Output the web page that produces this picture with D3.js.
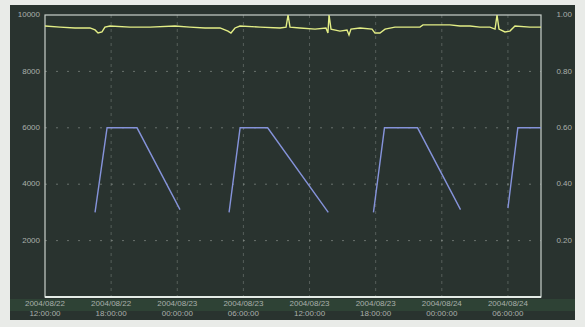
<!DOCTYPE html>
<html>
<head>
<meta charset="utf-8">
<script src="https://cdn.jsdelivr.net/npm/d3@7"></script>
<style>
  body { margin: 0; background: #e9ebe8; }
  #container { width: 585px; height: 327px; }
</style>
</head>
<body>
<div id="container"></div>
<script>
// hours after start
const yellowHours = [0, 1.36, 2.72, 4.08, 4.54, 4.81, 5.17, 5.44, 5.9, 7.71, 9.53, 11.79, 13.15, 14.52,
    15.88, 16.6, 16.87, 17.24, 17.69, 19.51, 21.32, 21.87, 22.05, 22.23, 23.13, 24.5, 25.49, 25.67,
    25.77, 25.95, 26.76, 27.4, 27.58, 27.76, 28.58, 29.67, 29.94, 30.39, 30.85, 31.75, 34.02, 34.29,
    36.74, 37.65, 38.56, 39.46, 40.37, 40.83, 41.01, 41.19, 41.73, 42.18, 42.64, 44, 45]
const yellowValues = [0.961, 0.957, 0.954, 0.954, 0.947, 0.936, 0.94, 0.957, 0.961, 0.957, 0.957, 0.961,
    0.957, 0.954, 0.954, 0.943, 0.936, 0.954, 0.961, 0.957, 0.954, 0.957, 1.0, 0.957, 0.954, 0.95,
    0.954, 0.936, 1.0, 0.95, 0.943, 0.947, 0.929, 0.95, 0.954, 0.95, 0.936, 0.936, 0.95, 0.957, 0.957,
    0.965, 0.965, 0.961, 0.961, 0.957, 0.957, 0.95, 1.0, 0.95, 0.94, 0.943, 0.961, 0.957, 0.957]

// null = no line drawn
const blueHours = [4.54, 5.63, 8.35, 12.25, 14, 16.7, 17.7, 20.2, 25.7, 27.5, 29.8, 30.8, 33.8, 37.7, 40, 42.0, 42.9, 45]
const blueValues = [3000, 6000, 6000, 3100, null, 3000, 6000, 6000, 3000, null, 3000, 6000, 6000, 3100, null, 3150, 6000, 6000]

const leftTicks = [2000, 4000, 6000, 8000, 10000]
const leftTickLabels = ['2000', '4000', '6000', '8000', '10000']
const rightTicks = [0.2, 0.4, 0.6, 0.8, 1.0]
const rightTickLabels = ['0.20', '0.40', '0.60', '0.80', '1.00']
const startTime = new Date(2004, 7, 22, 12, 0)
const tickHours = [0, 6, 12, 18, 24, 30, 36, 42]

const config = {
    width: 585,
    height: 327,
    plotLeft: 45,
    plotRight: 541,
    plotTop: 15,
    plotBottom: 297,
}

const hourToDate = h => new Date(startTime.getTime() + h * 3600 * 1000)

const svg = d3.select('#container')
    .append('svg')
    .attr('width', config.width)
    .attr('height', config.height)

// dark screen panel
svg.append('rect')
    .attr('x', 10)
    .attr('y', 5)
    .attr('width', 565)
    .attr('height', 315)
    .attr('fill', '#29332f')

// greenish band under the axis
svg.append('rect')
    .attr('x', 10)
    .attr('y', 299)
    .attr('width', 565)
    .attr('height', 12)
    .attr('fill', '#3f6f48')
    .style('opacity', 0.25)

const xScale = d3.scaleTime()
    .domain([hourToDate(0), hourToDate(45)])
    .range([config.plotLeft, config.plotRight])

const yLeft = d3.scaleLinear()
    .domain([0, 10000])
    .range([config.plotBottom, config.plotTop])

const yRight = d3.scaleLinear()
    .domain([0, 1])
    .range([config.plotBottom, config.plotTop])

// grid
svg.append('g')
    .selectAll('line')
    .data(leftTicks.slice(0, 4))
    .join('line')
    .attr('x1', config.plotLeft)
    .attr('x2', config.plotRight)
    .attr('y1', d => yLeft(d))
    .attr('y2', d => yLeft(d))
    .attr('stroke', '#c8cec8')
    .attr('stroke-dasharray', '2,9')
    .style('opacity', 0.4)

svg.append('g')
    .selectAll('line')
    .data(tickHours.slice(1))
    .join('line')
    .attr('x1', d => xScale(hourToDate(d)))
    .attr('x2', d => xScale(hourToDate(d)))
    .attr('y1', config.plotTop)
    .attr('y2', config.plotBottom)
    .attr('stroke', '#c8cec8')
    .attr('stroke-dasharray', '3,4')
    .style('opacity', 0.28)

// frame
svg.append('rect')
    .attr('x', config.plotLeft)
    .attr('y', config.plotTop)
    .attr('width', config.plotRight - config.plotLeft)
    .attr('height', config.plotBottom - config.plotTop)
    .attr('fill', 'none')
    .attr('stroke', '#c9d0cb')
    .attr('stroke-width', 1.2)

svg.append('line')
    .attr('x1', config.plotLeft)
    .attr('x2', config.plotRight)
    .attr('y1', config.plotBottom)
    .attr('y2', config.plotBottom)
    .attr('stroke', '#e4ebe6')
    .attr('stroke-width', 2)

// blue sawtooth
const blueLine = d3.line()
    .defined(d => d[1] !== null)
    .x(d => xScale(hourToDate(d[0])))
    .y(d => yLeft(d[1]))

svg.append('path')
    .datum(blueHours.map((h, i) => [h, blueValues[i]]))
    .attr('d', blueLine)
    .attr('fill', 'none')
    .attr('stroke', '#8593da')
    .attr('stroke-width', 1.4)

// yellow line
const yellowLine = d3.line()
    .x(d => xScale(hourToDate(d[0])))
    .y(d => yRight(d[1]))

svg.append('path')
    .datum(yellowHours.map((h, i) => [h, yellowValues[i]]))
    .attr('d', yellowLine)
    .attr('fill', 'none')
    .attr('stroke', '#e3ee86')
    .attr('stroke-width', 1.4)

// left axis labels
svg.append('g')
    .selectAll('text')
    .data(leftTicks)
    .join('text')
    .text((_, i) => leftTickLabels[i])
    .attr('x', 40)
    .attr('y', d => yLeft(d))
    .attr('text-anchor', 'end')
    .attr('dominant-baseline', 'middle')
    .style('font-family', 'Liberation Sans, sans-serif')
    .style('font-size', '8px')
    .style('fill', '#a9b0ab')

// right axis labels
svg.append('g')
    .selectAll('text')
    .data(rightTicks)
    .join('text')
    .text((_, i) => rightTickLabels[i])
    .attr('x', 572)
    .attr('y', d => yRight(d))
    .attr('text-anchor', 'end')
    .attr('dominant-baseline', 'middle')
    .style('font-family', 'Liberation Sans, sans-serif')
    .style('font-size', '8px')
    .style('fill', '#a9b0ab')

// time labels, two rows
const dateFmt = d3.timeFormat('%Y/%m/%d')
const timeFmt = d3.timeFormat('%H:%M:%S')

svg.append('g')
    .selectAll('text')
    .data(tickHours)
    .join('text')
    .text(d => dateFmt(hourToDate(d)))
    .attr('x', d => xScale(hourToDate(d)))
    .attr('y', 306)
    .attr('text-anchor', 'middle')
    .style('font-family', 'Liberation Sans, sans-serif')
    .style('font-size', '8px')
    .style('fill', '#a9b0ab')

svg.append('g')
    .selectAll('text')
    .data(tickHours)
    .join('text')
    .text(d => timeFmt(hourToDate(d)))
    .attr('x', d => xScale(hourToDate(d)))
    .attr('y', 316)
    .attr('text-anchor', 'middle')
    .style('font-family', 'Liberation Sans, sans-serif')
    .style('font-size', '8px')
    .style('fill', '#a9b0ab')
</script>
</body>
</html>
